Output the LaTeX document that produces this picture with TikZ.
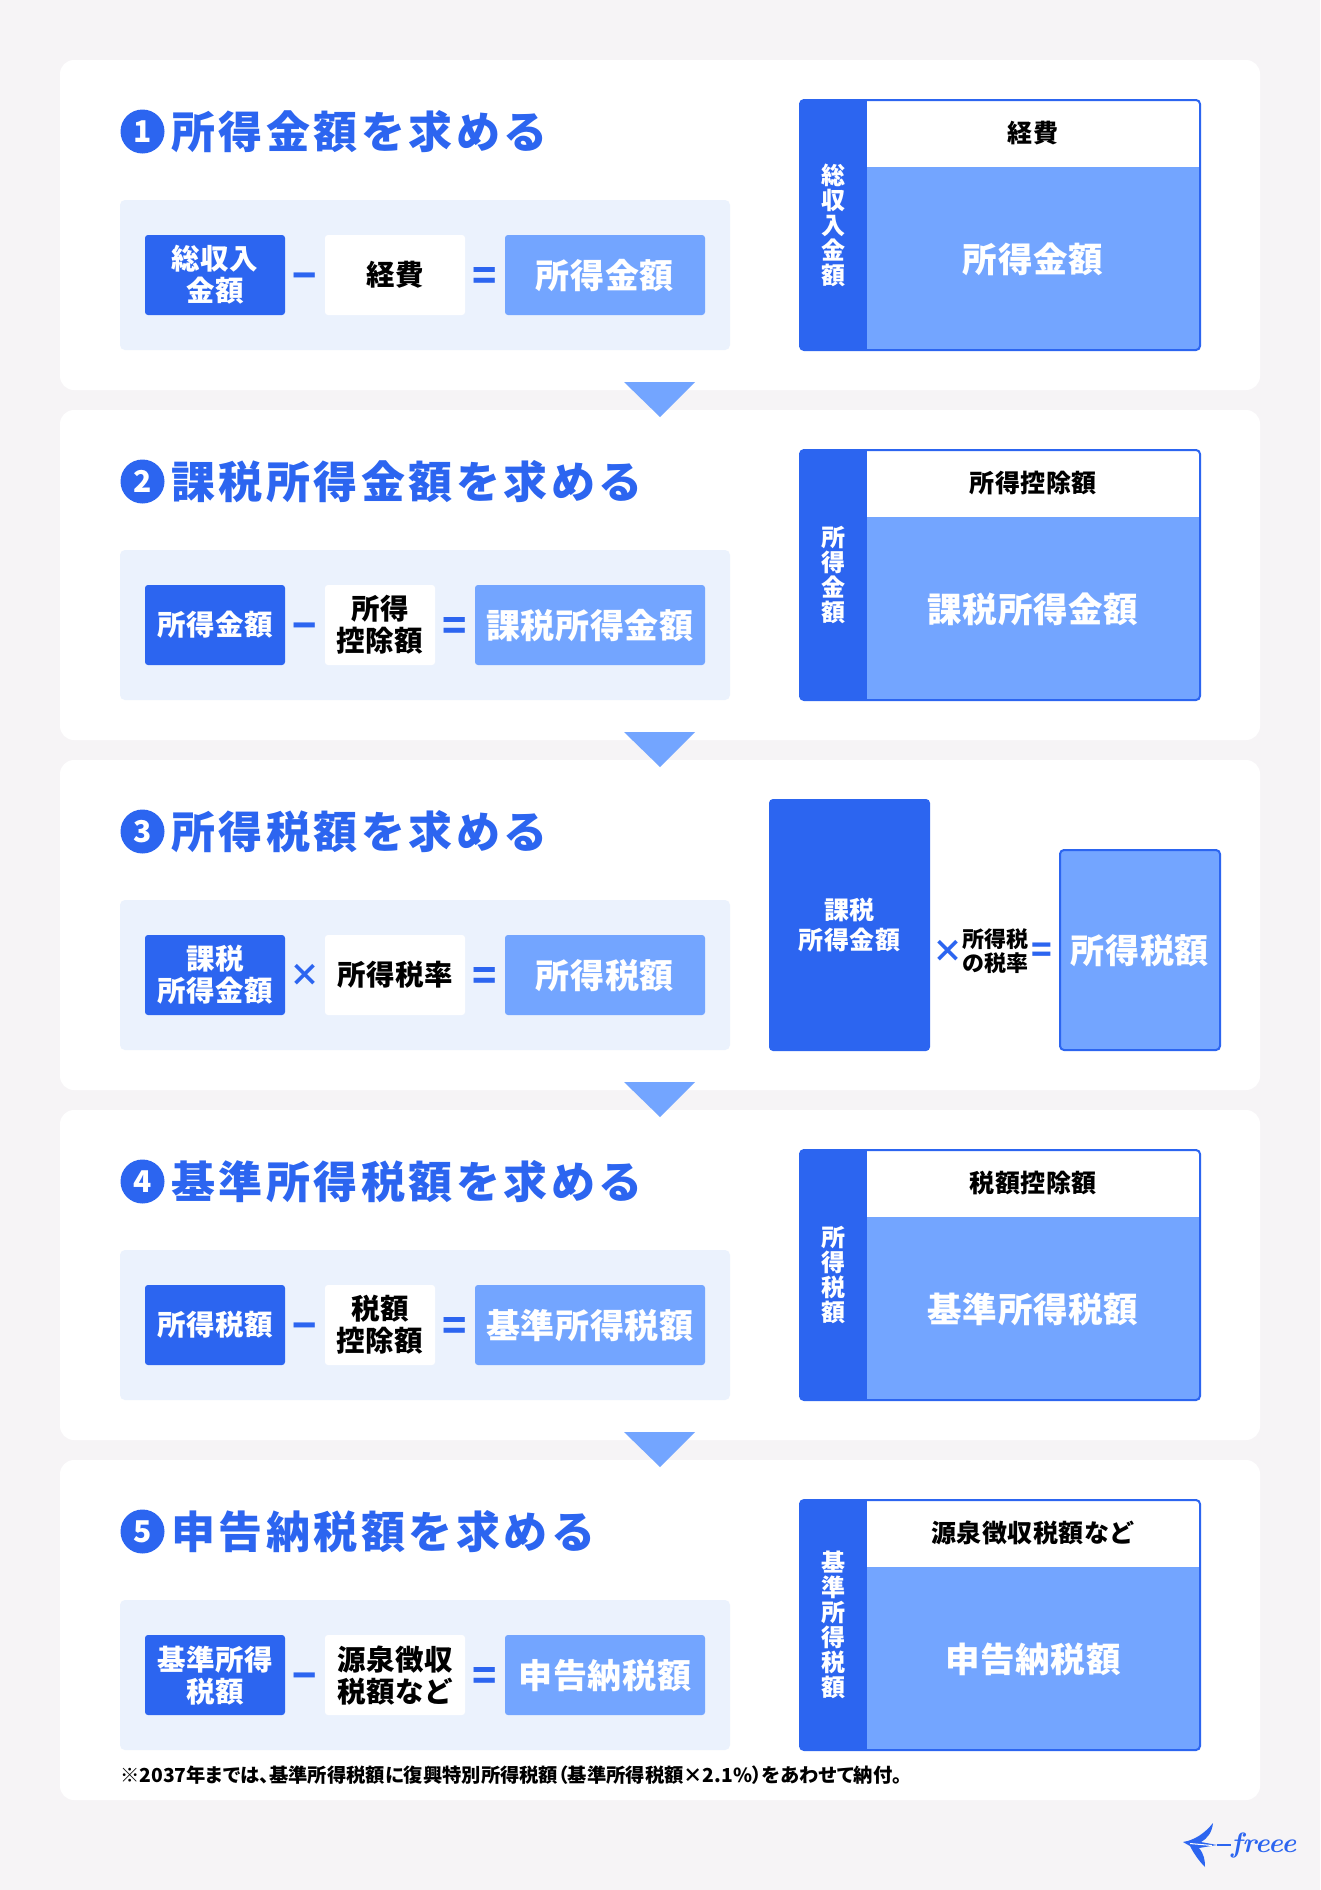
\documentclass[tikz,border=0pt]{standalone}
\usepackage{fontspec}
\setmainfont{Noto Sans CJK JP}
\newfontfamily\jpwide[LetterSpace=8]{Noto Sans CJK JP}
\newfontfamily\jpnear[LetterSpace=2]{Noto Sans CJK JP}
\newfontfamily\jptight[RawFeature=+palt]{Noto Sans CJK JP}
\newcommand{\jpsize}[2]{\fontsize{#1}{#2}\selectfont\bfseries}

\definecolor{paper}{HTML}{F6F4F6}
\definecolor{freeeblue}{HTML}{2C65F0}
\definecolor{freeelight}{HTML}{73A5FF}
\definecolor{freeepale}{HTML}{EBF2FD}

\tikzset{
    card/.style={fill=white, rounded corners=14pt, minimum width=1200pt, inner sep=0pt},
    pale/.style={fill=freeepale, rounded corners=5pt, minimum width=610pt, minimum height=150pt, inner sep=0pt},
    tile/.style={rounded corners=3pt, minimum height=80pt, inner sep=0pt, align=center, text depth=2.5pt, font=\jpnear\jpsize{28.5}{32}},
    darktile/.style={tile, fill=freeeblue, text=white, minimum width=140pt},
    whitetile/.style={tile, fill=white, text=black},
    lighttile/.style={tile, fill=freeelight, text=white, font=\jpnear\jpsize{34}{36}},
    opsign/.style={text=freeeblue, inner sep=0pt},
    numdot/.style={circle, fill=freeeblue, text=white, minimum size=44pt, inner sep=0pt, font=\jpsize{30}{30}},
    heading/.style={anchor=west, text=freeeblue, inner sep=0pt, font=\jpwide\jpsize{44}{46}},
    frame/.style={draw=freeeblue, line width=2pt, rounded corners=4pt, minimum width=400pt, minimum height=250pt, inner sep=0pt},
    sidelabel/.style={text=white, align=center, inner sep=0pt, font=\jpsize{24}{25}},
    toplabel/.style={text=black, inner sep=0pt, text depth=3pt, font=\jpnear\jpsize{25}{26}},
    biglabel/.style={text=white, inner sep=0pt, text depth=3pt, font=\jpnear\jpsize{34.5}{36}},
}

\begin{document}
\begin{tikzpicture}[x=1pt,y=-1pt]
\fill[paper] (0,0) rectangle (1320,1890);
\useasboundingbox (0,0) rectangle (1320,1890);

% cards
\foreach \i/\yy/\hh in {1/0/330, 2/350/330, 3/700/330, 4/1050/330, 5/1400/340}
    \node[card, minimum height=\hh pt] (card\i) at (660,60+\yy+\hh/2) {};

% arrows between the cards
\foreach \yy in {0,350,700,1050}
    \fill[freeelight] (624,382+\yy) -- (695,382+\yy) -- (660,417+\yy) -- cycle;

% left half of each card
\foreach \i/\yy/\ttl/\aa/\op/\os/\bb/\wr/\cc in {
    1/0/{所得金額を求める}/{総収入\\金額}/{−}/40/{経費}/140/{所得金額},
    2/350/{課税所得金額を求める}/{所得金額}/{−}/40/{所得\\控除額}/110/{課税所得金額},
    3/700/{所得税額を求める}/{課税\\所得金額}/{×}/31/{所得税率}/140/{所得税額},
    4/1050/{基準所得税額を求める}/{所得税額}/{−}/40/{税額\\控除額}/110/{基準所得税額},
    5/1400/{申告納税額を求める}/{基準所得\\税額}/{−}/40/{源泉徴収\\税額など}/140/{申告納税額}}
{
    \begin{scope}[shift={(0,\yy)}]
    \node[numdot] (num\i) at (142.5,131.5) {\i};
    \node[heading] (title\i) at (171,132) {\ttl};
    \node[pale] (pale\i) at (425,275) {};
    \node[darktile] (left\i) at (215,275) {\aa};
    \node[opsign, font=\jpsize{\os}{\os}, text height=.76*\os, text depth=0pt] (op\i) at (305,275) {\op};
    \node[whitetile, minimum width=\wr pt] (mid\i) at (325+\wr/2,275) {\bb};
    \node[opsign, font=\jpsize{40}{40}, text height=30.4pt, text depth=0pt] (eq\i) at (345+\wr,275) {=};
    \node[lighttile, minimum width=340-\wr] (res\i) at (535+\wr/2,275) {\cc};
    \end{scope}
}

% stacked figure on the right, not for the third card
\foreach \i/\yy/\aa/\bb/\cc in {
    1/0/{総\\収\\入\\金\\額}/{経費}/{所得金額},
    2/350/{所\\得\\金\\額}/{所得控除額}/{課税所得金額},
    4/1050/{所\\得\\税\\額}/{税額控除額}/{基準所得税額},
    5/1400/{基\\準\\所\\得\\税\\額}/{源泉徴収税額など}/{申告納税額}}
{
    \begin{scope}[shift={(0,\yy)}]
    \begin{scope}
    \clip[rounded corners=4pt] (800,100) rectangle (1200,350);
    \fill[freeelight] (800,100) rectangle (1200,350);
    \fill[white] (867,100) rectangle (1200,167);
    \fill[freeeblue] (800,100) rectangle (867,350);
    \end{scope}
    \node[frame] (frame\i) at (1000,225) {};
    \node[sidelabel] (side\i) at (833,225) {\aa};
    \node[toplabel] (top\i) at (1033,133.5) {\bb};
    \node[biglabel] (big\i) at (1033,259) {\cc};
    \end{scope}
}

% third card has a product instead
\node[fill=freeeblue, rounded corners=4pt, minimum width=161pt, minimum height=252pt, inner sep=0pt,
    text=white, align=center, font=\jpnear\jpsize{25}{30}] (base) at (849.5,925) {課税\\所得金額};
\node[opsign, font=\jpsize{31}{31}, text height=23.5pt, text depth=0pt] (times) at (948,951) {×};
\node[text=black, align=center, inner sep=0pt, font=\jpsize{22}{24}] (rate) at (995,951) {所得税\\の税率};
\node[opsign, font=\jpsize{34}{34}, text height=25.8pt, text depth=0pt] (equal) at (1041.5,950) {=};
\node[fill=freeelight, draw=freeeblue, line width=2pt, rounded corners=4pt, minimum width=160pt, minimum height=200pt,
    inner sep=0pt, text=white, text depth=3pt, font=\jpnear\jpsize{34}{36}] (tax) at (1140,950) {所得税額};

% note under the fifth card
\node[anchor=west, inner sep=0pt, text=black, font=\jptight\jpsize{19.3}{22}] (note) at (120,1775)
    {※2037年までは、基準所得税額に復興特別所得税額（基準所得税額×2.1\%）をあわせて納付。};

% logo
\fill[freeeblue] (1183,1842) .. controls (1195,1840) and (1205,1833) .. (1213,1823)
    .. controls (1212,1832) and (1208,1838) .. (1201,1842) -- (1217,1845) -- (1199,1848)
    .. controls (1204,1854) and (1205,1860) .. (1205,1867)
    .. controls (1198,1860) and (1193,1852) .. (1190,1846) -- cycle;
\draw[white, line width=1pt] (1190,1843.5) -- (1212,1845.5);
\node[anchor=west, inner sep=0pt, text=freeeblue, font=\fontspec{Latin Modern Roman}\fontsize{28}{28}\selectfont\itshape\bfseries] (logo) at (1231,1845) {freee};
\coordinate (tail) at (1217,1845);
\draw[freeeblue, line width=2pt] (tail) -- (logo.west);
\end{tikzpicture}
\end{document}
